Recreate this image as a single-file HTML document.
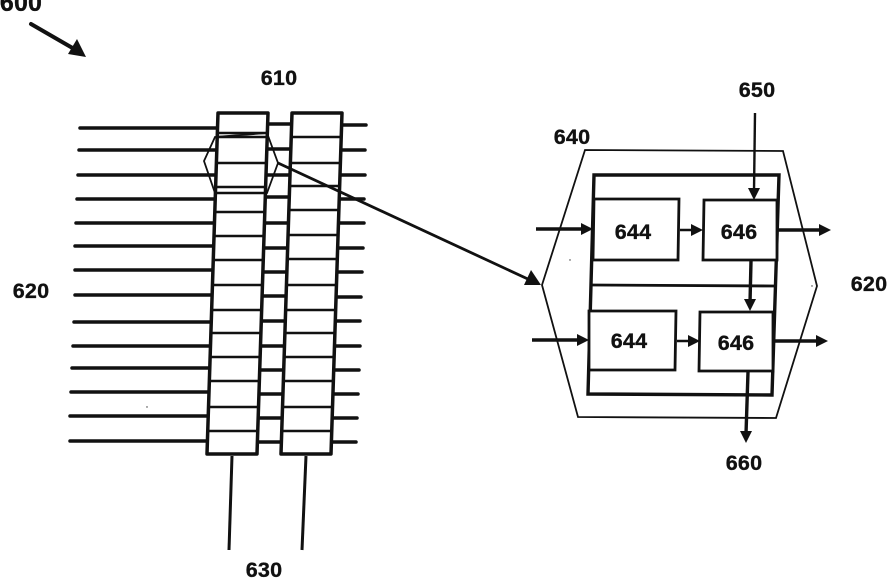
<!DOCTYPE html>
<html><head><meta charset="utf-8">
<style>
html,body{margin:0;padding:0;background:#fff;width:888px;height:578px;overflow:hidden}
svg{display:block}
text{font-family:"Liberation Sans",sans-serif;font-weight:bold;font-size:21.5px;fill:#111;stroke:#111;stroke-width:.35px;text-anchor:middle;letter-spacing:.2px}
</style></head><body>
<svg width="888" height="578" viewBox="0 0 888 578" xmlns="http://www.w3.org/2000/svg">
<!-- left horizontal lines -->
<g stroke="#111" stroke-width="3.5" fill="none" stroke-linecap="round">
<path d="M80 128H218M79 150H217M78 175H216M77 199H216M76 223H214M75 246H214M75 270H213M75 295H212M74 322H211M73 346H210M72 368H209M71 392H208M70 416H207M70 441H206"/>
<!-- right stubs -->
<path d="M342 125H366M342 150H365M341 175H365M340 199H364M339 223H364M339 248H363M338 272H362M337 297H361M336 321H360M335 346H360M334 370H359M333 394H358M332 418H357M331 442H356"/>
<!-- links -->
<path d="M268 124H292M267 149H291M267 175H290M266 197H289M265 223H288M265 248H288M264 272H287M263 296H286M262 321H285M261 346H284M261 370H283M260 394H282M259 418H281M258 442H281"/>
</g>
<!-- columns -->
<path d="M218 113H268L257 454H207Z" fill="#fff" stroke="#111" stroke-width="3.5" stroke-linejoin="round"/>
<path d="M292 113H342L331 454H281Z" fill="#fff" stroke="#111" stroke-width="3.5" stroke-linejoin="round"/>
<g stroke="#111" stroke-width="2.5" fill="none">
<path d="M218 133H267M218 137H267M217 163H266M216 187H265M216 193H265M215 212H264M214 236H264M214 260H263M213 285H262M212 310H261M211 333H260M210 357H259M209 381H258M208 407H257M208 431H256"/>
<path d="M292 137H341M291 163H340M290 186H340M290 210H339M289 235H338M288 259H338M287 285H337M286 310H336M286 333H335M285 357H334M284 381H333M283 407H332M282 431H331"/>
</g>
<!-- small hexagon -->
<path d="M215 137L204 161L215 193H267L278 163L267 133Z" fill="none" stroke="#111" stroke-width="1.8"/>
<!-- connector arrow -->
<path d="M278 163L530 280" stroke="#111" stroke-width="2.8"/>
<path d="M541 285L524 285L531 270Z" fill="#111"/>
<!-- big hexagon -->
<path d="M542 285L585 150L783 151L817 286L776 418L578 417Z" fill="none" stroke="#111" stroke-width="1.8"/>
<!-- frame -->
<path d="M594 175H779L772 395L588 394Z" fill="none" stroke="#111" stroke-width="3.4"/>
<path d="M592 285L776 286" stroke="#111" stroke-width="2.8"/>
<!-- boxes -->
<g fill="#fff" stroke="#111" stroke-width="2.8">
<path d="M594 199H679L678 260H593Z"/>
<path d="M704 200H777V260H703Z"/>
<path d="M589 311H676L675 370H589Z"/>
<path d="M700 312H773V371H699Z"/>
</g>
<!-- arrows -->
<g stroke="#111" fill="none">
<path d="M755 113L754 192" stroke-width="2.4"/>
<path d="M536 229H584" stroke-width="3.4"/>
<path d="M680 230H698" stroke-width="2.4"/>
<path d="M778 230H822" stroke-width="3.4"/>
<path d="M751 261L750 303" stroke-width="3.4"/>
<path d="M532 340H580" stroke-width="3.4"/>
<path d="M677 341H694" stroke-width="2.4"/>
<path d="M775 341H819" stroke-width="3.4"/>
<path d="M748 372L746 434" stroke-width="3.4"/>
<path d="M31 24L76 50" stroke-width="4" stroke-linecap="round"/>
<path d="M232 456L229 550" stroke-width="3"/>
<path d="M306 456L302 550" stroke-width="3"/>
</g>
<g fill="#111">
<path d="M754 200L748 188H760Z"/>
<path d="M593 229L581 223V235Z"/>
<path d="M703 230L691 224V236Z"/>
<path d="M831 230L819 224V236Z"/>
<path d="M750 311L744 299H756Z"/>
<path d="M589 340L577 334V346Z"/>
<path d="M700 341L688 335V347Z"/>
<path d="M828 341L816 335V347Z"/>
<path d="M746 443L740 431H752Z"/>
<path d="M86 57L68 54L77 39Z"/>
</g>
<!-- labels -->
<text x="21" y="11" style="font-size:25px">600</text>
<text x="279" y="85">610</text>
<text x="757" y="97">650</text>
<text x="572" y="144">640</text>
<text x="31" y="298">620</text>
<text x="869" y="291">620</text>
<text x="264" y="577">630</text>
<text x="744" y="470">660</text>
<text x="633" y="239">644</text>
<text x="739" y="239">646</text>
<text x="629" y="348">644</text>
<text x="736" y="350">646</text>
<!-- specks -->
<circle cx="147" cy="407" r=".7" fill="#333"/>
<circle cx="570" cy="260" r=".7" fill="#333"/>
<circle cx="812" cy="286" r=".7" fill="#333"/>
</svg>
</body></html>
